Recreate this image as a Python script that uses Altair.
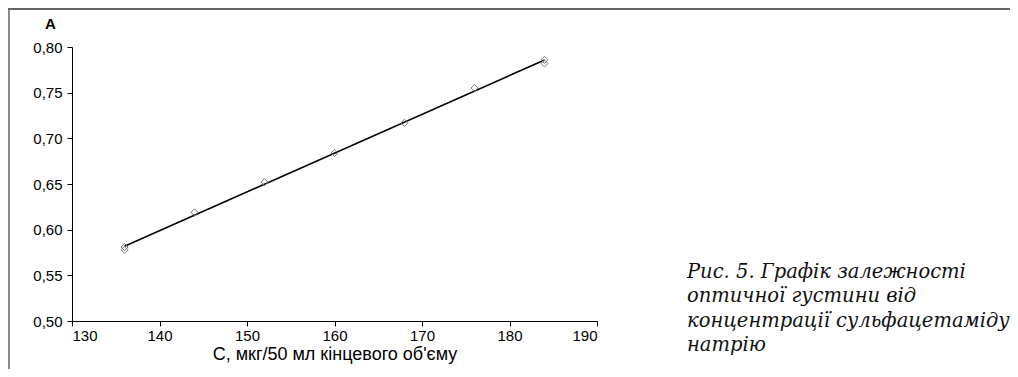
import altair as alt
import pandas as pd

conc = [136, 136, 144, 152, 160, 168, 176, 184, 184]
absorb = [0.581, 0.578, 0.619, 0.652, 0.684, 0.717, 0.755, 0.786, 0.782]
x_title = "C, мкг/50 мл кінцевого об'єму"
y_title = "A"
caption = ["Рис. 5. Графік залежності", "оптичної густини від",
           "концентрації сульфацетаміду", "натрію"]

df = pd.DataFrame({"C": conc, "A": absorb})

FONT = "Liberation Sans"
xs = alt.Scale(domain=[130, 190], nice=False, zero=False)
ys = alt.Scale(domain=[0.5, 0.8], nice=False, zero=False)

X = alt.X("C:Q", scale=xs,
          axis=alt.Axis(values=[130, 140, 150, 160, 170, 180, 190],
                        title=x_title, titleFontSize=18, titleFont=FONT,
                        titleFontWeight="normal", titlePadding=2,
                        titleColor="#000",
                        labelFont=FONT, labelFontSize=15, labelColor="#000",
                        tickSize=5, domainColor="#000", tickColor="#000",
                        grid=False, labelPadding=2))
Y = alt.Y("A:Q", scale=ys,
          axis=alt.Axis(values=[0.5, 0.55, 0.6, 0.65, 0.7, 0.75, 0.8],
                        labelExpr="replace(format(datum.value, '.2f'), '.', ',')",
                        title=y_title, titleAngle=0, titleX=-22, titleY=-24,
                        titleAlign="center", titleBaseline="middle",
                        titleFont=FONT, titleFontSize=15, titleFontWeight="bold",
                        titleColor="#000",
                        labelFont=FONT, labelFontSize=15, labelColor="#000",
                        tickSize=5, domainColor="#000", tickColor="#000",
                        grid=False, labelPadding=5))

base = alt.Chart(df)

points = base.mark_point(shape="diamond", filled=False, color="#777777",
                         size=50, strokeWidth=1, opacity=1).encode(x=X, y=Y)

line = base.transform_regression("C", "A").mark_line(
    color="#000000", strokeWidth=1.6).encode(x=X, y=Y)

one = alt.Chart(df).transform_filter("datum.C == 136 && datum.A > 0.58")

cap = one.mark_text(
    align="left", baseline="top", font="DejaVu Serif", fontStyle="italic",
    fontSize=19.5, lineHeight=24.3, color="#111", text=caption).encode(
    x=alt.value(615), y=alt.value(216))

top_rule = one.mark_rule(color="#666666", strokeWidth=2).encode(
    x=alt.value(-64), x2=alt.value(946), y=alt.value(-38))
left_rule = one.mark_rule(color="#666666", strokeWidth=1.5).encode(
    x=alt.value(-63), y=alt.value(-38), y2=alt.value(328))

chart = alt.layer(line, points, top_rule, left_rule, cap).properties(
    width=525, height=274,
    autosize=alt.AutoSizeParams(type="none"),
    padding={"left": 64, "top": 39, "right": 413, "bottom": 48},
).configure_view(stroke=None)

chart.save("out.html", embed_options={"renderer": "svg", "actions": False})
